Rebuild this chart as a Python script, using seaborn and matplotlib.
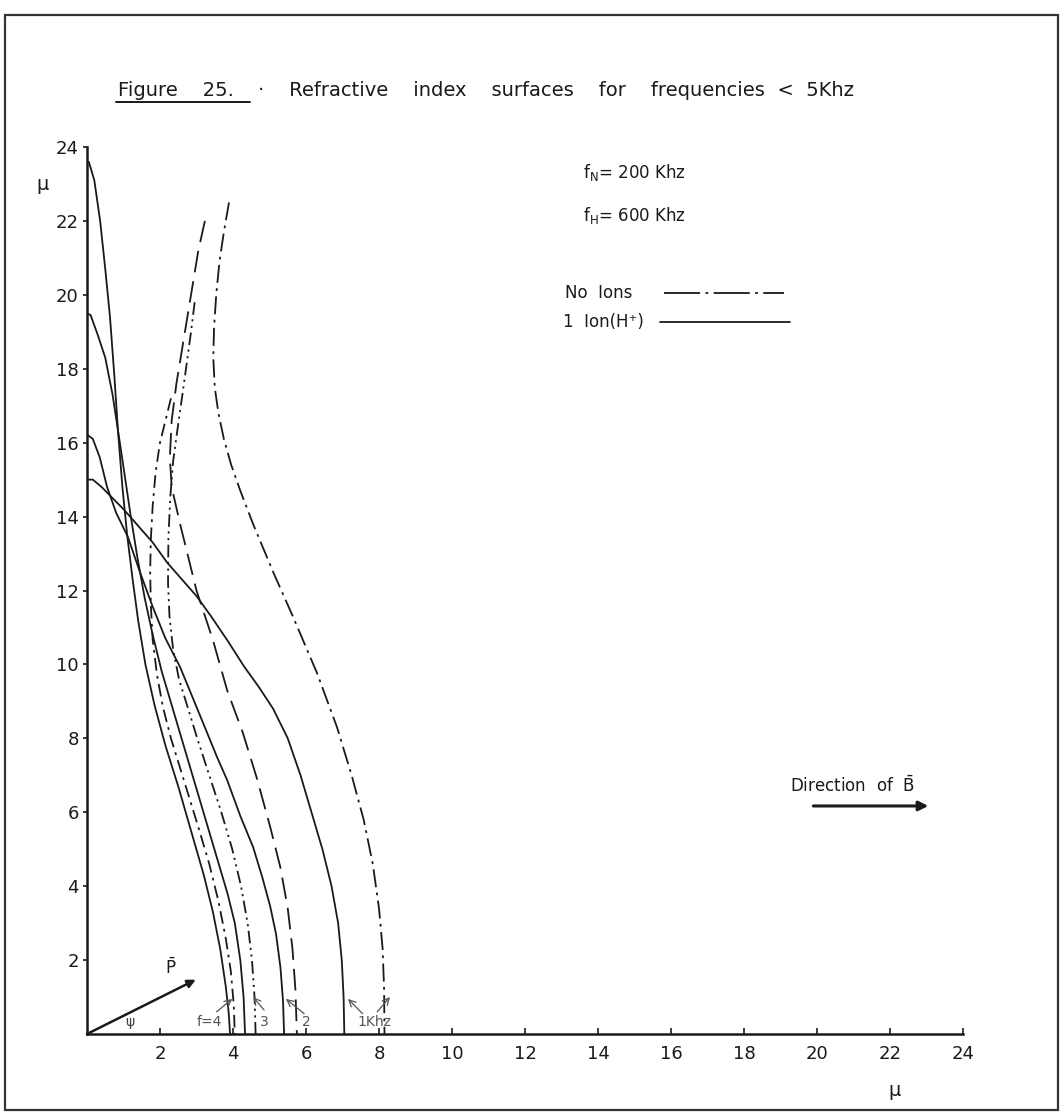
import matplotlib
matplotlib.use("Agg")
import matplotlib.pyplot as plt
from matplotlib.lines import Line2D
from matplotlib.patches import Rectangle
import seaborn as sns

# Refractive index surfaces, one ion (H+) included: f = 4, 3, 2, 1 kHz
ion_f4_x = [0.05, 0.2, 0.36, 0.5, 0.63, 0.75, 0.85, 0.97, 1.1, 1.25, 1.4, 1.6, 1.85, 2.15, 2.5, 2.85, 3.2, 3.45, 3.65, 3.8, 3.88, 3.92]
ion_f4_y = [23.6, 23.1, 22.0, 20.7, 19.4, 17.8, 16.3, 14.8, 13.5, 12.3, 11.2, 10.0, 8.9, 7.8, 6.7, 5.5, 4.3, 3.3, 2.3, 1.3, 0.6, 0.0]

ion_f3_x = [0.0, 0.1, 0.3, 0.5, 0.7, 0.9, 1.05, 1.2, 1.38, 1.58, 1.8, 2.05, 2.35, 2.65, 2.95, 3.25, 3.55, 3.85, 4.05, 4.2, 4.29, 4.33]
ion_f3_y = [19.5, 19.45, 18.9, 18.3, 17.3, 16.0, 15.0, 14.0, 12.9, 11.8, 10.8, 9.8, 8.8, 7.8, 6.8, 5.8, 4.8, 3.8, 3.0, 2.0, 1.0, 0.0]

ion_f2_x = [0.03, 0.16, 0.35, 0.55, 0.8, 1.12, 1.45, 1.8, 2.15, 2.55, 3.0, 3.56, 3.84, 4.2, 4.55, 4.8, 5.02, 5.18, 5.3, 5.37, 5.4]
ion_f2_y = [16.2, 16.1, 15.6, 14.8, 14.1, 13.45, 12.5, 11.56, 10.7, 9.93, 8.85, 7.5, 6.87, 5.9, 5.06, 4.25, 3.45, 2.7, 1.8, 0.9, 0.0]

ion_f1_x = [0.0, 0.16, 0.4, 0.7, 1.0, 1.4, 1.8, 2.2, 2.6, 3.0, 3.4, 3.84, 4.3, 4.7, 5.1, 5.5, 5.85, 6.15, 6.45, 6.7, 6.88, 6.98, 7.03, 7.05]
ion_f1_y = [15.0, 15.0, 14.8, 14.5, 14.2, 13.75, 13.3, 12.75, 12.3, 11.85, 11.3, 10.66, 9.95, 9.4, 8.8, 8.0, 7.0, 6.0, 5.0, 4.0, 3.0, 2.0, 1.0, 0.0]

# Refractive index surfaces without ions: f = 4, 3, 2, 1 kHz
noion_f4_x = [2.3, 2.15, 2.0, 1.88, 1.8, 1.75, 1.73, 1.75, 1.8, 1.92, 2.08, 2.3, 2.55, 2.8, 3.08, 3.35, 3.6, 3.8, 3.94, 4.02, 4.05]
noion_f4_y = [17.2, 16.6, 16.0, 15.2, 14.3, 13.4, 12.5, 11.6, 10.66, 9.7, 8.85, 8.0, 7.2, 6.4, 5.5, 4.6, 3.6, 2.6, 1.7, 0.8, 0.0]

noion_f3_x = [2.95, 2.85, 2.74, 2.6, 2.47, 2.36, 2.28, 2.23, 2.22, 2.26, 2.36, 2.52, 2.74, 3.02, 3.35, 3.68, 3.98, 4.22, 4.4, 4.52, 4.59, 4.62]
noion_f3_y = [19.8, 19.0, 18.2, 17.2, 16.3, 15.5, 14.5, 13.4, 12.2, 11.3, 10.4, 9.6, 8.9, 8.0, 7.0, 6.0, 5.0, 4.0, 3.0, 2.0, 1.0, 0.0]

noion_f2_x = [3.23, 3.05, 2.9, 2.75, 2.6, 2.45, 2.32, 2.27, 2.32, 2.55, 3.0, 3.45, 3.84, 4.27, 4.66, 5.02, 5.3, 5.5, 5.63, 5.71, 5.75]
noion_f2_y = [22.0, 21.2, 20.3, 19.4, 18.5, 17.6, 16.6, 15.6, 14.8, 13.8, 12.0, 10.66, 9.3, 8.15, 6.9, 5.6, 4.5, 3.4, 2.3, 1.2, 0.0]

noion_f1_x = [3.89, 3.75, 3.63, 3.54, 3.48, 3.46, 3.5, 3.6, 3.75, 3.95, 4.2, 4.55, 5.1, 5.64, 6.3, 6.85, 7.25, 7.58, 7.83, 8.0, 8.1, 8.14, 8.15]
noion_f1_y = [22.5, 21.7, 20.9, 20.0, 19.1, 18.3, 17.5, 16.8, 16.1, 15.4, 14.7, 13.8, 12.5, 11.3, 9.77, 8.3, 7.0, 5.8, 4.6, 3.4, 2.3, 1.2, 0.0]

tick_values = [2, 4, 6, 8, 10, 12, 14, 16, 18, 20, 22, 24]
freq_labels = ["f=4", "3", "2", "1Khz"]

sns.set_theme(style="ticks")
plt.rcParams["font.family"] = ["DejaVu Sans"]
plt.rcParams["mathtext.default"] = "regular"

W, H = 1064, 1114
fig = plt.figure(figsize=(W / 100, H / 100), dpi=100)
fig.patch.set_facecolor("white")


def fx(px):
    return px / W


def fy(py):
    return 1 - py / H


ax = fig.add_axes([fx(87), fy(1034), fx(963) - fx(87), fy(147) - fy(1034)])
ax.set_facecolor("white")

ink = "#1a1a1a"
curve_lw = 1.3

# solid curves: with H+ ions
for xs, ys in [(ion_f4_x, ion_f4_y), (ion_f3_x, ion_f3_y),
               (ion_f2_x, ion_f2_y), (ion_f1_x, ion_f1_y)]:
    sns.lineplot(x=xs, y=ys, sort=False, estimator=None, color=ink,
                 linewidth=curve_lw, ax=ax)

# broken curves: no ions
noion_curves = [
    (noion_f4_x, noion_f4_y, (7, 3, 1.5, 3)),
    (noion_f3_x, noion_f3_y, (7, 2.5, 1.2, 2.5, 1.2, 2.5)),
    (noion_f2_x, noion_f2_y, (12, 5)),
    (noion_f1_x, noion_f1_y, (10, 3, 1.5, 3)),
]
for xs, ys, dash in noion_curves:
    sns.lineplot(x=xs, y=ys, sort=False, estimator=None, color=ink,
                 linewidth=curve_lw, ax=ax)
    ax.lines[-1].set_dashes(dash)

ax.set_xlim(0, 24)
ax.set_ylim(0, 24)
ax.set_xticks(tick_values)
ax.set_yticks(tick_values)
ax.set_xticklabels([str(t) for t in tick_values])
ax.set_yticklabels([str(t) for t in tick_values])
ax.tick_params(axis="x", direction="in", length=4, width=1.2, pad=8,
               labelsize=13, colors=ink)
ax.tick_params(axis="y", direction="out", length=3, width=1.2, pad=3,
               labelsize=13, colors=ink)
sns.despine(ax=ax)
for side in ("left", "bottom"):
    ax.spines[side].set_linewidth(1.8)
    ax.spines[side].set_color(ink)
ax.set_xlabel("")
ax.set_ylabel("")

# parameter notes and key
ax.text(13.6, 23.3, "f$_N$= 200 Khz", fontsize=12, color=ink, va="center")
ax.text(13.6, 22.15, "f$_H$= 600 Khz", fontsize=12, color=ink, va="center")
ax.text(13.1, 20.05, "No  Ions", fontsize=12, color=ink, va="center")
ax.text(13.05, 19.27, "1  Ion(H⁺)", fontsize=12, color=ink, va="center")
ax.plot([15.8, 19.1], [20.05, 20.05], color=ink, lw=1.3, dashes=(20, 3, 1.5, 3))
ax.plot([15.7, 19.26], [19.27, 19.27], color=ink, lw=1.3)

# direction of the magnetic field
ax.text(19.25, 6.72, r"Direction  of  $\bar{B}$", fontsize=12, color=ink, va="center")
ax.annotate("", xy=(23.05, 6.17), xytext=(19.9, 6.17),
            arrowprops=dict(arrowstyle="-|>", lw=2.2, color=ink,
                            mutation_scale=14, shrinkA=0, shrinkB=0))

# propagation vector
ax.annotate("", xy=(2.98, 1.47), xytext=(0.0, 0.0),
            arrowprops=dict(arrowstyle="-|>", lw=1.8, color=ink,
                            mutation_scale=12, shrinkA=0, shrinkB=0))
ax.text(2.15, 1.8, r"$\bar{P}$", fontsize=12, color=ink, va="center")
ax.text(1.05, 0.32, "ψ", fontsize=10, color="#444444", va="center")

# frequency tags along the base
tag_x = [3.0, 4.75, 5.9, 7.4]
for lab, tx in zip(freq_labels, tag_x):
    ax.text(tx, 0.32, lab, fontsize=10, color="#555555", va="center")
leader_style = dict(arrowstyle="->", lw=0.9, color="#555555", shrinkA=0, shrinkB=0)
ax.annotate("", xy=(3.98, 0.95), xytext=(3.55, 0.6), arrowprops=leader_style)
ax.annotate("", xy=(4.55, 1.0), xytext=(4.85, 0.65), arrowprops=leader_style)
ax.annotate("", xy=(5.45, 0.95), xytext=(5.95, 0.55), arrowprops=leader_style)
ax.annotate("", xy=(7.15, 0.95), xytext=(7.55, 0.55), arrowprops=leader_style)
ax.annotate("", xy=(8.3, 1.0), xytext=(7.95, 0.6), arrowprops=leader_style)

# axis symbols
fig.text(fx(36), fy(185), "μ", fontsize=14, color=ink, va="center")
fig.text(fx(888), fy(1090), "μ", fontsize=14, color=ink, va="center")

# caption with underlined figure number
fig.text(fx(118), fy(90), "Figure    25.", fontsize=14, color=ink, va="center")
fig.add_artist(Line2D([fx(116), fx(250)], [fy(102), fy(102)],
                      transform=fig.transFigure, color=ink, lw=1.4))
fig.text(fx(258), fy(90),
         "·    Refractive    index    surfaces    for    frequencies  <  5Khz",
         fontsize=14, color=ink, va="center")

# page frame
fig.add_artist(Rectangle((fx(5), fy(1110)), fx(1058) - fx(5), fy(15) - fy(1110),
                         transform=fig.transFigure, fill=False,
                         edgecolor="#333333", lw=1.6))

fig.savefig("out.png", dpi=100, facecolor="white")
